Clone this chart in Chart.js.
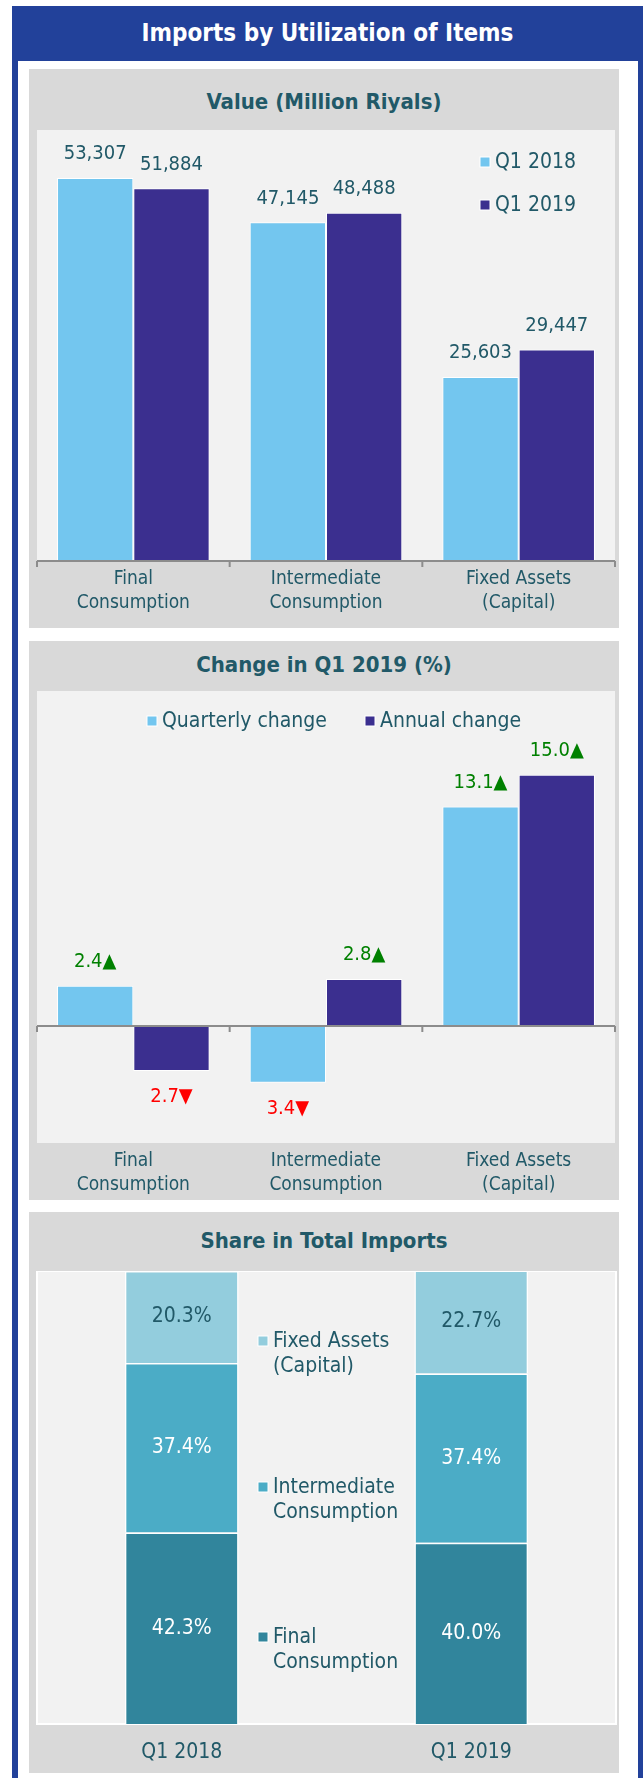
<!DOCTYPE html>
<html lang="en">
<head>
<meta charset="UTF-8" />
<title>Imports by Utilization of Items</title>
<style>
  body { margin: 0; width: 643px; height: 1778px; position: relative; overflow: hidden; background: #fff;
         font-family: "DejaVu Sans Condensed", "DejaVu Sans", sans-serif; }
  .frame { position: absolute; left: 12px; top: 6px; width: 631px; height: 1772px; background: #22419a; }
  .frame h1 { margin: 0; height: 55px; line-height: 55px; text-align: center; color: #fff; font-size: 24px; font-weight: bold; }
  .inner { position: absolute; left: 6px; top: 55px; width: 620px; height: 1717px; background: #fff; }
  .panel { position: absolute; left: 29px; width: 590px; background: #d9d9d9; }
  .panel h2 { position: absolute; left: 0; right: 0; margin: 0; line-height: 30px; text-align: center;
              font-size: 22px; font-weight: bold; color: #215968; }
  .panel canvas { position: absolute; left: 0; }
</style>
</head>
<body>
<div class="frame"><h1>Imports by Utilization of Items</h1><div class="inner"></div></div>

<div class="panel" style="top:69px;height:559px">
  <h2 style="top:18px">Value (Million Riyals)</h2>
  <canvas id="valueChart" width="590" height="498" style="top:61px"></canvas>
</div>

<div class="panel" style="top:641px;height:559px">
  <h2 style="top:9px">Change in Q1 2019 (%)</h2>
  <canvas id="changeChart" width="590" height="509" style="top:50px"></canvas>
</div>

<div class="panel" style="top:1212px;height:561px">
  <h2 style="top:14px">Share in Total Imports</h2>
  <canvas id="shareChart" width="590" height="502" style="top:59px"></canvas>
</div>

<script src="https://cdn.jsdelivr.net/npm/chart.js"></script>
<script>
// --- data ---
const categories = [['Final', 'Consumption'], ['Intermediate', 'Consumption'], ['Fixed Assets', '(Capital)']];

const valueSeries = ['Q1 2018', 'Q1 2019'];
const value2018 = [53307, 47145, 25603];
const value2019 = [51884, 48488, 29447];

const changeSeries = ['Quarterly change', 'Annual change'];
const quarterlyChange = [2.4, -3.4, 13.1];
const annualChange = [-2.7, 2.8, 15.0];

const periods = ['Q1 2018', 'Q1 2019'];
const shareSeries = [['Final', 'Consumption'], ['Intermediate', 'Consumption'], ['Fixed Assets', '(Capital)']];
const shareFinal = [42.3, 40.0];
const shareIntermediate = [37.4, 37.4];
const shareFixed = [20.3, 22.7];

// --- look ---
const FONT = '"DejaVu Sans Condensed", "DejaVu Sans", sans-serif';
const TEXT = '#215968';
const LIGHT = '#73c6ef';
const DARK = '#3b2f8f';
Chart.defaults.font.family = FONT;
Chart.defaults.color = TEXT;

// light plot area on the grey panel
const plotBg = {
  id: 'plotBg',
  beforeDraw(chart, args, opts) {
    const { ctx, chartArea: a } = chart;
    ctx.save();
    ctx.fillStyle = '#f2f2f2';
    ctx.fillRect(a.left, a.top, a.right - a.left, a.bottom - a.top);
    if (opts.outline) {
      ctx.strokeStyle = '#fff';
      ctx.lineWidth = 2;
      ctx.strokeRect(a.left, a.top, a.right - a.left, a.bottom - a.top);
    }
    ctx.restore();
  }
};

// category axis line at zero, with ticks between categories
const zeroAxis = {
  id: 'zeroAxis',
  afterDatasetsDraw(chart) {
    const { ctx, chartArea: a, scales } = chart;
    const y0 = Math.round(scales.y.getPixelForValue(0));
    const n = chart.data.labels.length;
    const step = (a.right - a.left) / n;
    ctx.save();
    ctx.strokeStyle = '#8c8c8c';
    ctx.lineWidth = 2;
    ctx.beginPath();
    ctx.moveTo(a.left, y0);
    ctx.lineTo(a.right, y0);
    for (let i = 0; i <= n; i++) {
      const px = a.left + i * step;
      ctx.moveTo(px, y0);
      ctx.lineTo(px, y0 + 6);
    }
    ctx.stroke();
    ctx.restore();
  }
};

const barLabels = {
  id: 'barLabels',
  afterDatasetsDraw(chart, args, opts) {
    const ctx = chart.ctx;
    ctx.save();
    ctx.font = opts.size + 'px ' + FONT;
    ctx.textAlign = 'center';
    ctx.textBaseline = 'middle';
    chart.data.datasets.forEach((ds, di) => {
      chart.getDatasetMeta(di).data.forEach((bar, i) => {
        const v = ds.data[i];
        const lab = opts.format(v, di);
        let y;
        if (opts.inside) y = (bar.y + bar.base) / 2;
        else y = v >= 0 ? bar.y - 24 : bar.y + 26;
        ctx.fillStyle = lab.color;
        ctx.fillText(lab.text, bar.x, y);
      });
    });
    ctx.restore();
  }
};

const boxLegend = {
  id: 'boxLegend',
  afterDraw(chart, args, opts) {
    const ctx = chart.ctx;
    ctx.save();
    ctx.font = opts.size + 'px ' + FONT;
    ctx.textAlign = 'left';
    ctx.textBaseline = 'middle';
    opts.spots.forEach((s, i) => {
      const ds = chart.data.datasets[i];
      ctx.fillStyle = '#fff';
      ctx.fillRect(s.x - 5.5, s.y - 5.5, 11, 11);
      ctx.fillStyle = ds.backgroundColor;
      ctx.fillRect(s.x - 4.5, s.y - 4.5, 9, 9);
      ctx.fillStyle = TEXT;
      [].concat(opts.labels[i]).forEach((t, j) => ctx.fillText(t, s.x + 10, s.y + 1 + j * opts.gap));
    });
    ctx.restore();
  }
};

function xAxis(h, size, pad) {
  return {
    grid: { display: false, drawTicks: false },
    border: { display: false },
    ticks: { color: TEXT, font: { size: size, lineHeight: 1.25 }, padding: pad, maxRotation: 0, autoSkip: false },
    afterFit(scale) { scale.height = h; }
  };
}

// 1. value
new Chart(document.getElementById('valueChart'), {
  type: 'bar',
  data: {
    labels: categories,
    datasets: [
      { label: valueSeries[0], data: value2018, backgroundColor: LIGHT },
      { label: valueSeries[1], data: value2019, backgroundColor: DARK }
    ]
  },
  options: {
    responsive: false,
    animation: false,
    layout: { padding: { left: 8, right: 4, top: 0, bottom: 0 } },
    datasets: { bar: { categoryPercentage: 0.792, barPercentage: 1, borderColor: '#fff', borderWidth: 1 } },
    scales: {
      x: xAxis(67, 19, 6),
      y: { display: false, min: 0, max: 60000 }
    },
    plugins: {
      legend: { display: false },
      tooltip: { enabled: false },
      barLabels: { size: 20, format: v => ({ text: v.toLocaleString('en-US'), color: TEXT }) },
      boxLegend: { size: 21, gap: 0, labels: valueSeries, spots: [{ x: 456, y: 32 }, { x: 456, y: 75 }] }
    }
  },
  plugins: [plotBg, zeroAxis, barLabels, boxLegend]
});

// 2. change
new Chart(document.getElementById('changeChart'), {
  type: 'bar',
  data: {
    labels: categories,
    datasets: [
      { label: changeSeries[0], data: quarterlyChange, backgroundColor: LIGHT },
      { label: changeSeries[1], data: annualChange, backgroundColor: DARK }
    ]
  },
  options: {
    responsive: false,
    animation: false,
    layout: { padding: { left: 8, right: 4, top: 0, bottom: 0 } },
    datasets: { bar: { categoryPercentage: 0.792, barPercentage: 1, borderColor: '#fff', borderWidth: 1 } },
    scales: {
      x: xAxis(57, 19, 6),
      y: { display: false, min: -7, max: 20 }
    },
    plugins: {
      legend: { display: false },
      tooltip: { enabled: false },
      barLabels: {
        size: 20,
        format: v => v >= 0
          ? { text: v.toFixed(1) + '▲', color: '#008000' }
          : { text: Math.abs(v).toFixed(1) + '▼', color: '#ff0000' }
      },
      boxLegend: { size: 21, gap: 0, labels: changeSeries, spots: [{ x: 123, y: 30 }, { x: 341, y: 30 }] }
    }
  },
  plugins: [plotBg, zeroAxis, barLabels, boxLegend]
});

// 3. share
new Chart(document.getElementById('shareChart'), {
  type: 'bar',
  data: {
    labels: periods,
    datasets: [
      { label: 'Final Consumption', data: shareFinal, backgroundColor: '#31859c' },
      { label: 'Intermediate Consumption', data: shareIntermediate, backgroundColor: '#4bacc6' },
      { label: 'Fixed Assets (Capital)', data: shareFixed, backgroundColor: '#93cddd' }
    ]
  },
  options: {
    responsive: false,
    animation: false,
    layout: { padding: { left: 8, right: 3, top: 0, bottom: 0 } },
    datasets: { bar: { categoryPercentage: 0.393, barPercentage: 1, borderColor: '#fff', borderWidth: 1.5 } },
    scales: {
      x: Object.assign(xAxis(49, 21, 15), { stacked: true }),
      y: { display: false, stacked: true, min: 0, max: 100 }
    },
    plugins: {
      legend: { display: false },
      tooltip: { enabled: false },
      plotBg: { outline: true },
      barLabels: {
        size: 21, inside: true,
        format: (v, di) => ({ text: v.toFixed(1) + '%', color: di === 2 ? TEXT : '#fff' })
      },
      boxLegend: {
        size: 21, gap: 25, labels: shareSeries,
        spots: [{ x: 234, y: 366 }, { x: 234, y: 216 }, { x: 234, y: 70 }]
      }
    }
  },
  plugins: [plotBg, barLabels, boxLegend]
});
</script>
</body>
</html>
